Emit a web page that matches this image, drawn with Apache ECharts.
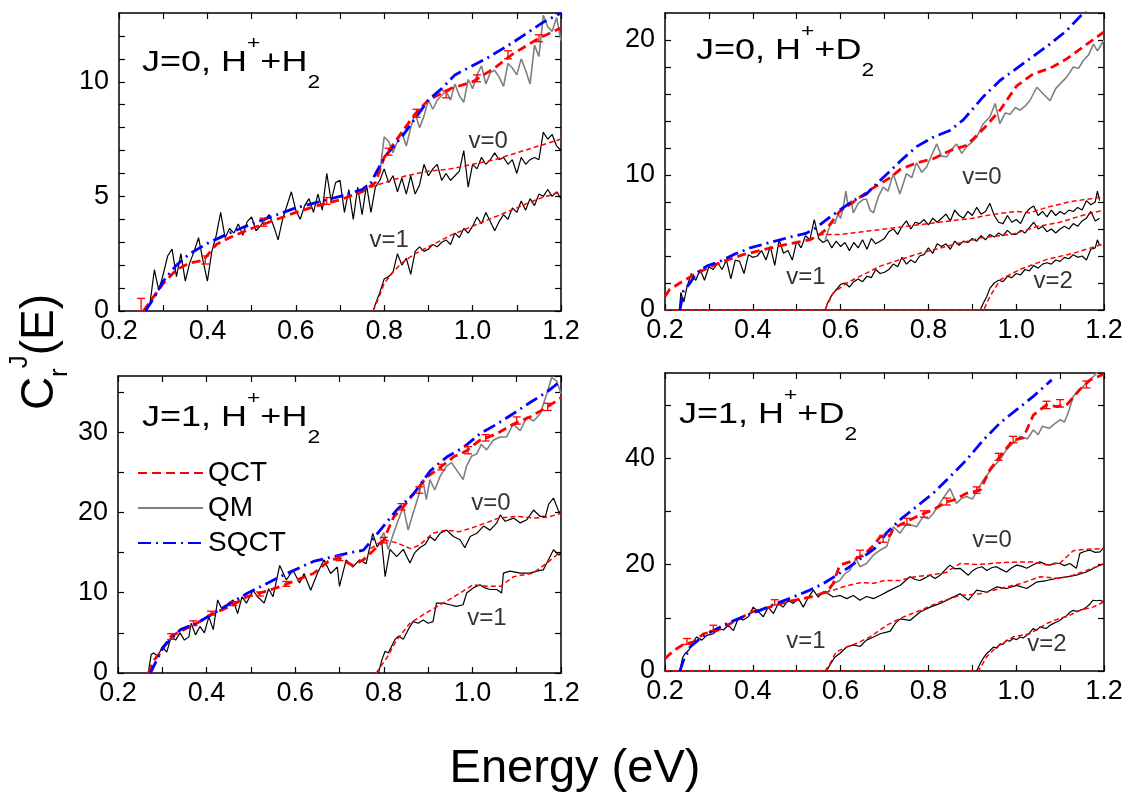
<!DOCTYPE html>
<html>
<head>
<meta charset="utf-8">
<title>C_r^J(E)</title>
<script src="https://cdn.jsdelivr.net/npm/echarts@6/dist/echarts.min.js"></script>
<style>
html,body{margin:0;padding:0;background:#fff;}
#main{width:1128px;height:796px;}
</style>
</head>
<body>
<div id="main"></div>
<script>
// [energy (eV), C_r^J]
// panel 1 : J=0, H+ + H2
var p1QmV0 = [[0.255,0],[0.27,0.3],[0.28,1.8],[0.29,0.9],[0.30,1.6],[0.31,2.4],[0.32,2.7],[0.33,1.5],[0.34,2.5],[0.35,1.3],[0.36,2.1],[0.37,2.6],[0.38,3.2],[0.39,2.2],[0.40,1.3],[0.41,2.6],[0.42,3.3],[0.43,4.3],[0.44,3.2],[0.45,3.6],[0.46,3.4],[0.47,3.8],[0.48,3.3],[0.49,3.9],[0.50,4.1],[0.51,3.5],[0.52,3.7],[0.53,4.0],[0.54,4.2],[0.55,3.7],[0.56,3.1],[0.57,4.0],[0.58,4.6],[0.59,5.2],[0.60,4.4],[0.61,4.0],[0.62,4.6],[0.63,4.9],[0.64,4.3],[0.65,5.1],[0.66,4.4],[0.67,6.0],[0.68,4.8],[0.69,5.6],[0.70,5.7],[0.71,4.3],[0.72,5.3],[0.73,4.0],[0.74,5.4],[0.75,4.2],[0.76,5.5],[0.77,4.3],[0.78,5.4],[0.79,5.7],[0.80,6.2],[0.81,5.6],[0.82,5.9],[0.83,5.2],[0.84,5.8],[0.85,5.1],[0.86,5.9],[0.87,5.1],[0.88,5.5],[0.89,6.4],[0.90,5.9],[0.91,6.2],[0.92,6.4],[0.93,5.7],[0.94,6.0],[0.95,5.7],[0.96,5.9],[0.97,6.1],[0.98,7.0],[0.99,5.4],[1.00,6.4],[1.01,6.2],[1.02,6.7],[1.03,6.4],[1.04,6.6],[1.05,6.9],[1.06,6.6],[1.07,6.7],[1.08,6.4],[1.09,6.6],[1.10,6.0],[1.11,6.7],[1.12,6.4],[1.13,6.6],[1.14,6.7],[1.15,6.6],[1.16,7.8],[1.17,7.5],[1.18,7.7],[1.19,7.2],[1.20,7.0]];
var p1QmV1 = [[0.775,0],[0.78,0.3],[0.79,0.8],[0.80,1.4],[0.81,1.5],[0.82,1.7],[0.83,2.5],[0.84,2.0],[0.85,2.3],[0.86,1.6],[0.87,2.6],[0.88,2.8],[0.89,2.6],[0.90,2.7],[0.91,2.9],[0.92,2.8],[0.93,3.0],[0.94,3.1],[0.95,2.9],[0.96,3.4],[0.97,3.2],[0.98,3.6],[0.99,3.4],[1.00,3.7],[1.01,4.1],[1.02,3.8],[1.03,4.3],[1.04,3.9],[1.05,3.5],[1.06,3.9],[1.07,4.2],[1.08,4.0],[1.09,4.5],[1.10,4.3],[1.11,4.8],[1.12,4.4],[1.13,4.9],[1.14,4.6],[1.15,5.1],[1.16,5.0],[1.17,5.3],[1.18,5.0],[1.19,5.2],[1.20,4.9]];
var p1QmTot = [[0.79,6.0],[0.80,7.6],[0.81,7.4],[0.82,6.9],[0.83,7.4],[0.84,7.8],[0.85,7.2],[0.86,8.0],[0.87,8.6],[0.88,8.0],[0.89,8.5],[0.90,9.2],[0.91,8.8],[0.92,9.2],[0.93,9.4],[0.94,9.6],[0.95,9.2],[0.96,9.9],[0.97,9.4],[0.98,9.1],[0.99,10.1],[1.00,9.7],[1.01,10.3],[1.02,10.7],[1.03,9.9],[1.04,10.4],[1.05,10.5],[1.06,10.2],[1.07,9.8],[1.08,10.8],[1.09,10.6],[1.10,10.3],[1.11,11.0],[1.12,10.5],[1.13,9.9],[1.14,11.6],[1.15,11.1],[1.16,12.9],[1.17,12.4],[1.18,12.2],[1.19,12.8],[1.20,11.8]];
var p1QctTot = [[0.255,0],[0.27,0.4],[0.30,1.2],[0.33,1.8],[0.36,2.1],[0.39,2.2],[0.42,2.9],[0.45,3.2],[0.50,3.6],[0.55,3.95],[0.60,4.3],[0.65,4.6],[0.70,4.85],[0.75,5.2],[0.78,5.6],[0.80,6.7],[0.84,7.8],[0.87,8.6],[0.90,9.2],[0.95,9.7],[1.00,10.0],[1.05,10.6],[1.09,11.2],[1.15,11.9],[1.20,12.35]];
var p1QctV0 = [[0.77,5.4],[0.80,5.6],[0.85,5.9],[0.90,6.1],[0.95,6.2],[1.00,6.4],[1.05,6.6],[1.10,6.9],[1.15,7.2],[1.20,7.5]];
var p1QctV1 = [[0.775,0],[0.79,0.7],[0.80,1.2],[0.82,1.7],[0.84,2.1],[0.87,2.5],[0.90,2.8],[0.95,3.3],[1.00,3.7],[1.05,4.1],[1.10,4.5],[1.15,4.9],[1.20,5.2]];
var p1Sqct = [[0.26,0],[0.28,0.6],[0.30,1.3],[0.33,2.0],[0.36,2.5],[0.40,2.95],[0.45,3.4],[0.50,3.8],[0.55,4.15],[0.60,4.5],[0.65,4.75],[0.70,5.0],[0.75,5.3],[0.77,5.6],[0.80,6.7],[0.84,7.6],[0.87,8.4],[0.90,9.2],[0.93,9.7],[0.96,10.3],[1.03,11.0],[1.09,11.7],[1.16,12.6],[1.20,13.0]];
var p1Err = [[0.25,0,0.55],[0.395,2.05,2.4],[0.527,3.7,4.05],[0.67,4.65,4.95],[0.81,6.8,7.1],[0.873,8.45,8.8],[0.94,9.3,9.6],[1.01,10.0,10.3],[1.08,11.0,11.35],[1.15,11.75,12.05]];

// panel 2 : J=0, H+ + D2
var p2QmV0 = [[0.233,0],[0.236,1.3],[0.243,0.6],[0.25,1.7],[0.26,2.7],[0.27,2.2],[0.28,3.0],[0.29,2.2],[0.30,3.2],[0.31,3.0],[0.32,3.5],[0.33,3.0],[0.34,3.7],[0.35,2.3],[0.36,3.7],[0.37,3.6],[0.38,2.7],[0.39,4.1],[0.40,3.9],[0.41,4.0],[0.42,4.4],[0.43,3.7],[0.44,4.7],[0.45,3.3],[0.46,5.2],[0.47,4.2],[0.48,4.4],[0.49,3.7],[0.50,5.1],[0.51,4.6],[0.52,5.5],[0.53,5.2],[0.54,6.7],[0.55,5.3],[0.56,5.0],[0.57,5.2],[0.58,4.6],[0.59,5.1],[0.60,4.7],[0.61,5.0],[0.62,4.4],[0.63,5.0],[0.64,4.6],[0.65,5.2],[0.66,4.5],[0.67,5.3],[0.68,4.9],[0.69,5.1],[0.70,5.3],[0.71,5.8],[0.72,6.0],[0.73,5.6],[0.74,6.2],[0.75,6.6],[0.76,6.0],[0.77,6.5],[0.78,6.4],[0.79,6.7],[0.80,6.3],[0.81,6.8],[0.82,6.5],[0.83,6.8],[0.84,7.1],[0.85,6.6],[0.86,7.4],[0.87,7.0],[0.88,6.8],[0.89,7.3],[0.90,7.0],[0.91,7.6],[0.92,7.1],[0.93,7.3],[0.94,7.9],[0.95,7.0],[0.96,6.5],[0.97,6.4],[0.98,7.0],[0.99,6.5],[1.00,6.7],[1.01,6.4],[1.02,7.1],[1.03,7.5],[1.04,7.7],[1.05,7.0],[1.06,7.3],[1.07,6.9],[1.08,7.4],[1.09,7.0],[1.10,7.3],[1.11,7.1],[1.12,7.4],[1.13,7.3],[1.14,7.6],[1.15,7.4],[1.16,8.1],[1.17,7.8],[1.18,8.0],[1.185,8.8],[1.19,8.1]];
var p2QmV1 = [[0.565,0],[0.57,0.5],[0.58,1.1],[0.59,1.5],[0.60,1.9],[0.61,2.0],[0.62,1.7],[0.63,2.1],[0.64,2.3],[0.65,2.1],[0.66,2.5],[0.67,2.4],[0.68,3.0],[0.69,2.7],[0.70,2.8],[0.71,3.0],[0.72,3.4],[0.73,3.2],[0.74,3.9],[0.75,3.4],[0.76,3.7],[0.77,3.5],[0.78,4.0],[0.79,4.1],[0.80,4.6],[0.81,4.2],[0.82,4.9],[0.83,4.7],[0.84,4.9],[0.85,4.5],[0.86,5.1],[0.87,4.8],[0.88,5.1],[0.89,5.0],[0.90,5.3],[0.91,5.1],[0.92,5.5],[0.93,5.2],[0.94,5.6],[0.95,5.4],[0.96,5.7],[0.97,5.5],[0.98,5.9],[0.99,5.6],[1.00,5.6],[1.01,5.9],[1.02,5.7],[1.03,6.1],[1.04,6.5],[1.05,6.0],[1.06,6.2],[1.07,5.8],[1.08,6.0],[1.09,5.7],[1.10,6.0],[1.11,6.2],[1.12,6.0],[1.13,6.4],[1.14,6.2],[1.15,6.6],[1.16,6.8],[1.17,7.3],[1.18,6.6],[1.19,6.8]];
var p2QmV2 = [[0.918,0],[0.925,0.5],[0.933,1.0],[0.94,1.6],[0.95,2.0],[0.96,2.2],[0.97,2.1],[0.98,2.5],[0.99,2.4],[1.00,2.7],[1.01,2.6],[1.02,3.0],[1.03,2.9],[1.04,3.3],[1.05,3.1],[1.06,3.4],[1.07,3.5],[1.08,3.4],[1.09,3.7],[1.10,3.6],[1.11,3.9],[1.12,3.8],[1.13,4.1],[1.14,3.9],[1.15,4.0],[1.16,3.7],[1.17,4.5],[1.18,4.6],[1.185,5.2],[1.19,4.8]];
var p2QmTot = [[0.565,5.2],[0.573,6.0],[0.58,6.5],[0.587,6.4],[0.594,7.1],[0.60,6.8],[0.607,7.8],[0.612,8.8],[0.617,7.7],[0.624,8.1],[0.629,7.2],[0.64,7.9],[0.652,8.2],[0.659,8.2],[0.667,7.4],[0.675,7.2],[0.686,8.4],[0.697,9.1],[0.708,8.8],[0.72,10.1],[0.735,8.6],[0.75,10.1],[0.762,9.8],[0.773,10.9],[0.785,10.2],[0.796,10.6],[0.808,11.5],[0.819,12.3],[0.83,11.4],[0.842,11.35],[0.853,11.9],[0.864,12.3],[0.876,11.6],[0.887,12.1],[0.898,12.4],[0.91,12.8],[0.925,13.8],[0.94,14.3],[0.952,15.3],[0.963,13.8],[0.975,14.6],[0.986,14.5],[0.998,15.0],[1.009,14.8],[1.02,15.1],[1.031,15.5],[1.047,16.5],[1.062,16.0],[1.077,15.5],[1.09,16.4],[1.10,16.75],[1.115,17.25],[1.13,18.0],[1.142,17.9],[1.153,18.5],[1.165,18.9],[1.176,19.7],[1.185,19.2],[1.191,19.5],[1.20,20.0]];
var p2QctTot = [[0.20,1.0],[0.21,1.5],[0.234,2.0],[0.265,2.6],[0.303,3.2],[0.341,3.7],[0.378,4.1],[0.416,4.4],[0.454,4.7],[0.492,4.95],[0.53,5.2],[0.553,5.6],[0.568,6.0],[0.598,7.3],[0.629,8.0],[0.667,8.9],[0.713,9.8],[0.735,10.4],[0.773,10.9],[0.811,11.2],[0.849,11.8],[0.887,12.2],[0.925,13.4],[0.963,14.8],[1.001,16.6],[1.039,17.5],[1.077,17.9],[1.115,18.6],[1.153,19.5],[1.20,20.6]];
var p2QctV0 = [[0.55,5.6],[0.60,5.6],[0.65,5.8],[0.70,6.0],[0.75,6.2],[0.80,6.4],[0.85,6.6],[0.90,6.8],[0.95,7.1],[1.00,7.3],[1.03,7.2],[1.07,7.6],[1.12,8.0],[1.16,8.2],[1.20,8.4]];
var p2QctV1 = [[0.20,0],[0.564,0],[0.583,1.25],[0.614,2.0],[0.66,2.75],[0.69,3.25],[0.77,4.1],[0.84,4.7],[0.92,5.35],[0.99,5.6],[1.05,6.2],[1.10,6.5],[1.15,7.0],[1.20,7.4]];
var p2QctV2 = [[0.20,0],[0.926,0],[0.94,1.0],[0.964,2.25],[1.008,3.0],[1.07,3.75],[1.13,4.2],[1.20,4.9]];
var p2Sqct = [[0.234,0],[0.242,1.4],[0.257,2.0],[0.272,2.75],[0.295,3.25],[0.325,3.6],[0.356,4.1],[0.394,4.6],[0.439,5.0],[0.485,5.4],[0.523,5.7],[0.545,6.1],[0.568,6.7],[0.598,7.4],[0.629,8.1],[0.659,8.6],[0.69,9.6],[0.713,10.3],[0.735,11.0],[0.773,12.1],[0.811,12.8],[0.849,13.3],[0.88,14.1],[0.925,15.8],[0.963,17.0],[1.001,17.9],[1.039,18.8],[1.077,19.7],[1.115,20.7],[1.15,21.9],[1.17,22.6]];

// panel 3 : J=1, H+ + H2
var p3QmV0 = [[0.268,0],[0.275,2.3],[0.28,2.5],[0.29,2.1],[0.30,3.3],[0.31,2.6],[0.32,4.5],[0.33,4.1],[0.34,5.0],[0.35,4.1],[0.36,4.5],[0.365,6.2],[0.375,4.75],[0.385,5.8],[0.395,5.0],[0.405,7.0],[0.415,5.4],[0.425,9.1],[0.435,7.9],[0.45,8.7],[0.46,9.1],[0.47,7.4],[0.48,9.5],[0.49,8.7],[0.505,10.3],[0.515,9.5],[0.53,8.7],[0.54,10.5],[0.55,9.5],[0.565,13.4],[0.58,11.6],[0.595,12.8],[0.61,11.2],[0.62,12.4],[0.635,10.3],[0.65,12.4],[0.665,14.1],[0.68,12.4],[0.695,13.2],[0.70,10.8],[0.715,14.1],[0.73,13.2],[0.745,14.1],[0.76,13.6],[0.775,17.4],[0.785,15.7],[0.795,16.5],[0.803,12.0],[0.814,15.4],[0.829,14.5],[0.844,15.4],[0.859,13.7],[0.87,15.0],[0.881,15.6],[0.893,16.0],[0.904,17.0],[0.915,16.5],[0.927,17.4],[0.942,17.8],[0.957,17.0],[0.972,16.6],[0.983,15.6],[0.995,17.0],[1.01,17.4],[1.025,18.3],[1.04,17.8],[1.055,18.7],[1.063,19.7],[1.074,18.9],[1.093,19.3],[1.108,18.7],[1.123,19.1],[1.138,20.3],[1.153,19.5],[1.165,19.5],[1.172,21.0],[1.183,21.8],[1.195,20.1],[1.20,20.0]];
var p3QmV1 = [[0.788,0],[0.796,1.7],[0.803,2.7],[0.81,2.5],[0.825,4.15],[0.833,4.6],[0.844,4.2],[0.855,5.4],[0.866,6.4],[0.878,6.2],[0.889,6.6],[0.90,6.2],[0.911,6.4],[0.919,8.7],[0.934,8.7],[0.949,8.5],[0.964,8.3],[0.979,8.5],[0.987,9.96],[1.002,10.6],[1.017,11.0],[1.028,10.6],[1.04,10.4],[1.055,10.4],[1.066,9.96],[1.07,12.45],[1.085,12.7],[1.108,12.45],[1.13,12.45],[1.145,12.7],[1.16,12.85],[1.168,13.7],[1.183,15.36],[1.195,14.7],[1.20,15.0]];
var p3QmTot = [[0.792,16.6],[0.80,17.5],[0.81,15.4],[0.822,17.4],[0.833,19.1],[0.844,20.7],[0.855,17.8],[0.866,19.9],[0.877,21.8],[0.888,24.1],[0.896,21.6],[0.904,24.1],[0.915,22.8],[0.927,24.5],[0.942,25.8],[0.953,26.2],[0.964,25.3],[0.979,24.1],[0.987,25.8],[0.998,27.0],[1.01,27.3],[1.02,28.5],[1.032,27.8],[1.047,29.0],[1.062,29.4],[1.077,29.4],[1.092,31.0],[1.108,30.2],[1.123,31.9],[1.138,31.4],[1.153,32.3],[1.168,34.8],[1.179,36.8],[1.19,36.4],[1.20,34.8]];
var p3QctTot = [[0.269,0],[0.28,1.5],[0.295,2.5],[0.318,4.5],[0.341,5.2],[0.378,6.2],[0.416,7.45],[0.453,8.3],[0.491,9.5],[0.529,10.1],[0.566,10.75],[0.604,11.6],[0.641,12.4],[0.679,14.1],[0.70,14.3],[0.73,13.4],[0.754,14.1],[0.777,15.3],[0.799,16.5],[0.822,19.4],[0.844,20.7],[0.867,22.3],[0.897,24.4],[0.927,25.6],[0.957,26.9],[0.987,27.7],[1.017,29.0],[1.055,29.8],[1.092,31.0],[1.13,31.9],[1.168,33.1],[1.20,34.3]];
var p3QctV0 = [[0.77,15.5],[0.80,16.6],[0.83,16.2],[0.86,15.5],[0.88,15.9],[0.91,17.4],[0.94,17.8],[0.97,17.6],[1.00,18.1],[1.03,18.7],[1.06,19.3],[1.10,19.5],[1.14,19.3],[1.17,19.4],[1.20,19.9]];
var p3QctV1 = [[0.783,0],[0.807,1.9],[0.829,4.1],[0.859,6.2],[0.896,7.5],[0.934,8.7],[0.972,9.96],[1.002,11.0],[1.032,10.8],[1.063,10.8],[1.093,12.0],[1.138,12.45],[1.168,13.7],[1.195,14.9]];
var p3Sqct = [[0.273,0],[0.303,3.3],[0.341,5.4],[0.378,6.2],[0.416,7.45],[0.491,9.9],[0.566,12.0],[0.641,13.9],[0.717,14.9],[0.754,15.3],[0.792,17.8],[0.829,20.3],[0.867,22.3],[0.905,25.2],[0.942,26.9],[0.98,28.1],[1.017,29.8],[1.055,31.0],[1.092,32.3],[1.13,33.7],[1.168,35.0],[1.20,36.4]];
var p3Err = [[0.32,4.2,4.9],[0.37,5.9,6.5],[0.41,7.2,7.7],[0.46,8.4,8.9],[0.52,9.6,10.1],[0.58,10.8,11.4],[0.70,14.0,14.6],[0.80,16.2,16.9],[0.84,20.3,21.1],[0.88,22.4,23.2],[0.93,25.3,26.0],[0.99,27.3,28.2],[1.03,28.9,29.7],[1.10,31.0,31.9],[1.17,32.7,33.6]];

// panel 4 : J=1, H+ + D2
var p4QmV0 = [[0.234,0],[0.24,2.5],[0.246,3.3],[0.255,4.0],[0.261,5.1],[0.272,6.4],[0.284,5.8],[0.295,6.7],[0.31,7.0],[0.322,8.0],[0.333,7.7],[0.344,8.6],[0.356,7.6],[0.367,9.9],[0.378,9.6],[0.39,10.2],[0.401,12.0],[0.413,11.1],[0.424,10.2],[0.435,12.0],[0.447,10.8],[0.458,12.7],[0.469,12.0],[0.481,13.3],[0.492,12.7],[0.504,13.6],[0.515,12.0],[0.527,13.9],[0.538,15.2],[0.549,13.9],[0.561,14.9],[0.572,14.5],[0.583,13.9],[0.599,14.2],[0.614,13.6],[0.629,14.2],[0.644,13.3],[0.659,14.0],[0.675,13.6],[0.69,14.2],[0.713,15.2],[0.736,16.1],[0.758,17.7],[0.77,17.2],[0.781,17.0],[0.795,17.6],[0.804,18.0],[0.815,17.4],[0.827,18.0],[0.838,19.0],[0.849,19.9],[0.86,19.2],[0.872,19.3],[0.882,18.6],[0.891,18.0],[0.90,18.8],[0.91,19.3],[0.922,19.6],[0.933,18.9],[0.944,19.4],[0.955,19.6],[0.966,19.1],[0.978,18.6],[0.99,19.4],[1.001,19.9],[1.012,19.7],[1.024,19.3],[1.04,20.0],[1.054,20.5],[1.066,20.1],[1.077,19.9],[1.088,20.3],[1.099,20.2],[1.11,19.8],[1.122,20.2],[1.137,19.3],[1.145,22.1],[1.157,22.5],[1.168,22.7],[1.18,22.3],[1.191,22.4],[1.20,23.3]];
var p4QmV1 = [[0.568,0],[0.576,1.2],[0.587,2.6],[0.598,3.3],[0.614,4.5],[0.629,4.9],[0.644,4.6],[0.659,5.8],[0.675,6.4],[0.69,7.0],[0.705,7.3],[0.713,7.5],[0.725,9.0],[0.736,9.8],[0.758,9.5],[0.781,11.1],[0.804,12.0],[0.827,12.7],[0.849,13.6],[0.872,14.5],[0.891,13.3],[0.91,15.2],[0.933,14.8],[0.955,15.8],[0.978,15.5],[1.001,16.1],[1.024,15.5],[1.046,16.7],[1.069,17.0],[1.092,17.4],[1.115,17.7],[1.137,18.0],[1.16,18.6],[1.183,19.6],[1.20,20.2]];
var p4QmV2 = [[0.91,0],[0.918,1.4],[0.925,2.4],[0.933,3.3],[0.94,3.8],[0.948,4.5],[0.956,4.3],[0.963,5.1],[0.97,5.0],[0.978,5.8],[0.985,5.6],[0.993,6.1],[1.001,5.9],[1.009,6.4],[1.016,6.2],[1.024,6.7],[1.031,7.2],[1.039,8.0],[1.046,7.6],[1.054,8.3],[1.062,8.1],[1.069,8.0],[1.077,8.6],[1.084,8.9],[1.092,9.2],[1.099,9.5],[1.107,10.0],[1.115,10.4],[1.122,11.0],[1.13,11.4],[1.137,11.2],[1.145,11.4],[1.152,11.6],[1.16,12.0],[1.168,12.6],[1.175,13.3],[1.183,13.2],[1.191,13.3],[1.20,13.0]];
var p4QmTot = [[0.57,14.5],[0.583,16.4],[0.598,17.0],[0.61,18.3],[0.621,18.9],[0.635,21.1],[0.644,19.6],[0.659,20.2],[0.675,21.8],[0.69,22.7],[0.705,23.4],[0.72,27.1],[0.735,25.9],[0.751,27.7],[0.773,27.1],[0.788,29.0],[0.80,28.6],[0.811,29.6],[0.826,31.5],[0.849,34.3],[0.864,31.5],[0.875,32.4],[0.887,32.8],[0.90,32.3],[0.91,33.7],[0.925,35.9],[0.948,38.4],[0.963,39.7],[0.978,41.6],[0.993,42.8],[1.009,44.1],[1.025,43.6],[1.039,45.3],[1.05,44.4],[1.06,46.0],[1.075,45.6],[1.085,46.3],[1.10,47.2],[1.11,46.8],[1.12,48.9],[1.13,51.6],[1.145,52.9],[1.168,54.7],[1.191,56.6]];
var p4QctTot = [[0.20,2.3],[0.219,3.8],[0.242,5.0],[0.265,5.5],[0.288,7.0],[0.318,7.6],[0.348,8.9],[0.371,9.9],[0.401,11.2],[0.439,12.0],[0.477,13.0],[0.515,13.6],[0.545,14.2],[0.568,14.9],[0.583,16.4],[0.598,19.9],[0.621,20.5],[0.652,21.8],[0.675,23.6],[0.69,25.2],[0.713,25.5],[0.72,26.8],[0.751,28.1],[0.781,29.3],[0.811,30.3],[0.842,31.8],[0.857,32.1],[0.887,33.4],[0.918,34.0],[0.94,37.8],[0.963,40.3],[0.993,43.4],[1.016,43.8],[1.039,48.1],[1.069,50.0],[1.092,49.7],[1.115,50.0],[1.145,52.9],[1.168,54.7],[1.20,55.8]];
var p4QctV0 = [[0.565,14.8],[0.583,15.2],[0.614,16.0],[0.644,16.6],[0.675,16.5],[0.70,17.0],[0.736,17.0],[0.76,17.6],[0.80,18.0],[0.84,18.5],[0.872,20.2],[0.91,20.0],[0.955,20.3],[1.00,20.5],[1.04,20.5],[1.07,19.9],[1.10,20.3],[1.13,22.6],[1.16,22.9],[1.20,23.0]];
var p4QctV1 = [[0.20,0],[0.565,0],[0.576,1.4],[0.59,3.6],[0.614,4.5],[0.637,5.2],[0.667,6.4],[0.705,8.6],[0.736,9.9],[0.781,11.4],[0.827,13.0],[0.872,14.2],[0.918,14.5],[0.963,15.5],[1.009,16.4],[1.054,17.7],[1.099,17.4],[1.13,18.0],[1.16,18.9],[1.183,19.6],[1.20,20.2]];
var p4QctV2 = [[0.20,0],[0.914,0],[0.933,2.7],[0.955,4.5],[0.993,6.4],[1.031,7.0],[1.069,8.9],[1.099,9.9],[1.115,10.2],[1.145,11.4],[1.175,12.0],[1.20,13.0]];
var p4Sqct = [[0.234,0],[0.242,2.0],[0.257,4.5],[0.28,6.1],[0.303,7.3],[0.341,8.9],[0.378,10.2],[0.416,11.4],[0.454,12.7],[0.492,13.9],[0.53,15.2],[0.56,16.4],[0.591,18.0],[0.621,19.6],[0.652,21.5],[0.682,23.3],[0.705,26.0],[0.735,28.4],[0.773,30.9],[0.811,33.4],[0.849,36.5],[0.887,39.7],[0.925,43.4],[0.963,46.6],[1.001,49.1],[1.039,51.6],[1.081,54.7]];
var p4Err = [[0.25,5.0,6.1],[0.31,7.6,8.6],[0.45,12.4,13.4],[0.644,21.5,22.7],[0.697,24.2,25.5],[0.751,27.4,28.7],[0.79,28.9,30.1],[0.842,31.2,32.5],[0.91,33.4,34.6],[0.96,39.6,40.9],[0.993,42.9,44.1],[1.069,49.3,50.7],[1.10,49.6,51.0],[1.16,53.2,54.5]];

// axis ranges per panel
var yMax   = [13, 22, 37, 56];
var yMinor = [1, 2, 5, 10];
var yMajor = [5, 10, 10, 20];

// v labels: [panel, text, energy, value]
var vLabels = [
  [0, 'v=0', 1.035, 7.4], [0, 'v=1', 0.811, 3.1],
  [1, 'v=0', 0.922, 9.8], [1, 'v=1', 0.521, 2.4], [1, 'v=2', 1.084, 2.1],
  [2, 'v=0', 1.042, 21.1], [2, 'v=1', 1.033, 6.8],
  [3, 'v=0', 0.945, 24.6], [3, 'v=1', 0.521, 5.6], [3, 'v=2', 1.07, 5.0]
];

var FONT = '"Liberation Sans", Arial, Helvetica, sans-serif';

var grids = [
  {left:119, top:13, width:442, height:298},
  {left:665, top:13, width:439, height:297},
  {left:118, top:376, width:443, height:297},
  {left:665, top:373, width:439, height:298}
];

var xAxes = [], yAxes = [];
for (var g = 0; g < 4; g++) {
  ['bottom','top'].forEach(function(pos){
    xAxes.push({
      type:'value', gridIndex:g, position:pos, min:0.2, max:1.2, interval:0.1,
      axisLine:{show:true, onZero:false, lineStyle:{color:'#000', width:1.5}},
      axisTick:{show:true, inside:true, length:6, lineStyle:{color:'#000', width:1.2}},
      axisLabel:{show:pos==='bottom', color:'#000', fontSize:27, fontFamily:FONT, margin:7,
        formatter:function(v){ return Math.round(v*10) % 2 === 0 ? v.toFixed(1) : ''; }},
      splitLine:{show:false}
    });
  });
  (function(g){
    ['left','right'].forEach(function(pos){
      yAxes.push({
        type:'value', gridIndex:g, position:pos, min:0, max:yMax[g], interval:yMinor[g],
        axisLine:{show:true, onZero:false, lineStyle:{color:'#000', width:1.5}},
        axisTick:{show:true, inside:true, length:6, lineStyle:{color:'#000', width:1.2}},
        axisLabel:{show:pos==='left', color:'#000', fontSize:27, fontFamily:FONT, margin:10, showMaxLabel:false,
          formatter:function(v){ return v % yMajor[g] === 0 ? String(v) : ''; }},
        splitLine:{show:false}
      });
    });
  })(g);
}

function line(name, data, g, color, width, type, z) {
  return {
    name:name, type:'line', xAxisIndex:2*g, yAxisIndex:2*g, data:data,
    symbol:'none', showSymbol:false, animation:false, z:z, clip:true,
    lineStyle:{color:color, width:width, type:type}, itemStyle:{color:color}
  };
}

var DASH = [9,5], THIN = [5,3], DASHDOT = [13,5,2,5];

function errBars(data, g) {
  return {
    type:'custom', xAxisIndex:2*g, yAxisIndex:2*g, data:data, animation:false, silent:true, z:6,
    encode:{x:0, y:[1,2]},
    renderItem:function(params, api){
      var x = api.value(0);
      var lo = api.coord([x, api.value(1)]), hi = api.coord([x, api.value(2)]);
      var st = {stroke:'#ff0000', lineWidth:1.3};
      return {type:'group', children:[
        {type:'line', shape:{x1:lo[0], y1:lo[1], x2:hi[0], y2:hi[1]}, style:st},
        {type:'line', shape:{x1:lo[0]-4, y1:lo[1], x2:lo[0]+4, y2:lo[1]}, style:st},
        {type:'line', shape:{x1:hi[0]-4, y1:hi[1], x2:hi[0]+4, y2:hi[1]}, style:st}
      ]};
    }
  };
}

var BLACK = '#000000', GRAY = '#808080', RED = '#ff0000', BLUE = '#0000ff';

var series = [
  // panel 1
  line('p1 QM v0', p1QmV0, 0, BLACK, 1.2, 'solid', 2),
  line('p1 QM v1', p1QmV1, 0, BLACK, 1.2, 'solid', 2),
  line('p1 QM', p1QmTot, 0, GRAY, 1.6, 'solid', 3),
  line('p1 QCT v0', p1QctV0, 0, RED, 1.5, THIN, 4),
  line('p1 QCT v1', p1QctV1, 0, RED, 1.5, THIN, 4),
  line('p1 QCT', p1QctTot, 0, RED, 2.8, DASH, 5),
  line('p1 SQCT', p1Sqct, 0, BLUE, 2.8, DASHDOT, 5),
  errBars(p1Err, 0),
  // panel 2
  line('p2 QM v0', p2QmV0, 1, BLACK, 1.2, 'solid', 2),
  line('p2 QM v1', p2QmV1, 1, BLACK, 1.2, 'solid', 2),
  line('p2 QM v2', p2QmV2, 1, BLACK, 1.2, 'solid', 2),
  line('p2 QM', p2QmTot, 1, GRAY, 1.6, 'solid', 3),
  line('p2 QCT v0', p2QctV0, 1, RED, 1.5, THIN, 4),
  line('p2 QCT v1', p2QctV1, 1, RED, 1.5, THIN, 4),
  line('p2 QCT v2', p2QctV2, 1, RED, 1.5, THIN, 4),
  line('p2 QCT', p2QctTot, 1, RED, 2.8, DASH, 5),
  line('p2 SQCT', p2Sqct, 1, BLUE, 2.8, DASHDOT, 5),
  // panel 3
  line('p3 QM v0', p3QmV0, 2, BLACK, 1.2, 'solid', 2),
  line('p3 QM v1', p3QmV1, 2, BLACK, 1.2, 'solid', 2),
  line('QM', p3QmTot, 2, GRAY, 1.6, 'solid', 3),
  line('p3 QCT v0', p3QctV0, 2, RED, 1.5, THIN, 4),
  line('p3 QCT v1', p3QctV1, 2, RED, 1.5, THIN, 4),
  line('QCT', p3QctTot, 2, RED, 2.8, DASH, 5),
  line('SQCT', p3Sqct, 2, BLUE, 2.8, DASHDOT, 5),
  errBars(p3Err, 2),
  // panel 4
  line('p4 QM v0', p4QmV0, 3, BLACK, 1.2, 'solid', 2),
  line('p4 QM v1', p4QmV1, 3, BLACK, 1.2, 'solid', 2),
  line('p4 QM v2', p4QmV2, 3, BLACK, 1.2, 'solid', 2),
  line('p4 QM', p4QmTot, 3, GRAY, 1.6, 'solid', 3),
  line('p4 QCT v0', p4QctV0, 3, RED, 1.5, THIN, 4),
  line('p4 QCT v1', p4QctV1, 3, RED, 1.5, THIN, 4),
  line('p4 QCT v2', p4QctV2, 3, RED, 1.5, THIN, 4),
  line('p4 QCT', p4QctTot, 3, RED, 2.8, DASH, 5),
  line('p4 SQCT', p4Sqct, 3, BLUE, 2.8, DASHDOT, 5),
  errBars(p4Err, 3)
];

// v=0 / v=1 / v=2 annotations placed in data coordinates
for (var k = 0; k < 4; k++) {
  var pts = vLabels.filter(function(r){ return r[0] === k; }).map(function(r){ return [r[2], r[3], r[1]]; });
  series.push({
    type:'scatter', xAxisIndex:2*k, yAxisIndex:2*k, data:pts, symbolSize:0, silent:true, animation:false, z:8,
    label:{show:true, position:'inside', color:'#000', fontSize:24, fontFamily:FONT,
      formatter:function(p){ return p.value[2]; }}
  });
}

// panel titles and axis titles
var titleRich = {
  n:{fontSize:30, fontFamily:FONT, color:'#000', lineHeight:58, verticalAlign:'middle'},
  sp:{fontSize:19, fontFamily:FONT, color:'#000', lineHeight:19, verticalAlign:'top'},
  sb:{fontSize:19, fontFamily:FONT, color:'#000', lineHeight:19, verticalAlign:'bottom'}
};
function panelTitle(x, y, j, mol) {
  return {type:'text', x:x, y:y, scaleX:1.2, z:10, silent:true,
    style:{text:'{n|J=' + j + ', H}{sp|+}{n|+' + mol + '}{sb|2}', rich:titleRich,
      align:'left', verticalAlign:'middle', textAlign:'left', textVerticalAlign:'middle', fill:'#000'}};
}

var graphics = [
  panelTitle(142, 63, 0, 'H'),
  panelTitle(696, 51, 0, 'D'),
  panelTitle(142, 418, 1, 'H'),
  panelTitle(679, 415, 1, 'D'),
  {type:'text', x:575, y:769, z:10, silent:true,
    style:{text:'Energy (eV)', font:'47px ' + FONT, fill:'#000', align:'center', verticalAlign:'middle',
      textAlign:'center', textVerticalAlign:'middle'}},
  {type:'text', x:40, y:352, rotation:Math.PI/2, z:10, silent:true,
    style:{text:'{c|C}{sb|r}{sp|J}{c|(E)}', align:'center', verticalAlign:'middle',
      textAlign:'center', textVerticalAlign:'middle', fill:'#000',
      rich:{
        c:{fontSize:46, fontFamily:FONT, color:'#000', lineHeight:66, verticalAlign:'middle'},
        sp:{fontSize:26, fontFamily:FONT, color:'#000', lineHeight:26, verticalAlign:'top'},
        sb:{fontSize:26, fontFamily:FONT, color:'#000', lineHeight:26, verticalAlign:'bottom'}
      }}}
];

var chart = echarts.init(document.getElementById('main'), null, {renderer:'canvas'});
chart.setOption({
  backgroundColor:'#ffffff',
  animation:false,
  grid:grids,
  xAxis:xAxes,
  yAxis:yAxes,
  legend:{
    data:['QCT','QM','SQCT'], orient:'vertical', left:132, top:454, selectedMode:false,
    itemWidth:65, itemHeight:14, itemGap:7,
    itemStyle:{opacity:0},
    textStyle:{fontSize:28, color:'#000', fontFamily:FONT}
  },
  series:series,
  graphic:graphics
});
</script>
</body>
</html>
